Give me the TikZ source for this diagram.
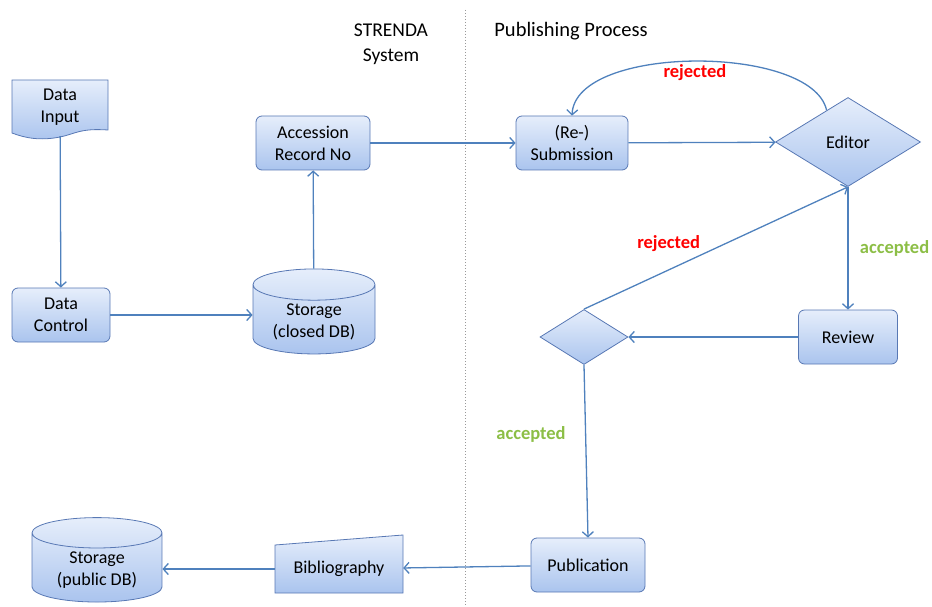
\documentclass[tikz,border=0pt]{standalone}
\usepackage{fontspec}
\setmainfont{Carlito}
\usetikzlibrary{shapes.geometric,arrows.meta,positioning}
\definecolor{linkblue}{RGB}{79,129,189}
\definecolor{edgeblue}{RGB}{88,120,180}
\definecolor{filltop}{RGB}{230,238,251}
\definecolor{fillbot}{RGB}{170,196,238}
\definecolor{okgreen}{RGB}{140,190,70}
\begin{document}
\begin{tikzpicture}[x=1pt,y=-1pt,
  font=\fontsize{18}{22}\selectfont,
  >={Straight Barb[length=5pt,width=11pt]},
  blockfill/.style={draw=edgeblue,line width=0.8pt,top color=filltop,bottom color=fillbot},
  box/.style={blockfill,rounded corners=6pt,align=center,minimum width=98pt,minimum height=54pt},
  db/.style={cylinder,shape border rotate=90,blockfill,align=center,aspect=0.35},
  link/.style={->,draw=linkblue,line width=1.3pt},
  decision/.style={diamond,blockfill,inner sep=0pt},
  tag/.style={font=\fontsize{18.5}{22}\selectfont\bfseries},
  heading/.style={font=\fontsize{19.5}{25}\selectfont,align=center}]
\useasboundingbox (0,0) rectangle (932,607);
% column titles
\draw[gray!80,dotted,line width=1pt] (465,10) -- (465,607);
\node[heading] (t1) at (391,44) {STRENDA\\System};
\node[heading,font=\fontsize{20.5}{25}\selectfont] (t2) at (571,31) {Publishing Process};
% data input (document shape)
\path[blockfill] (12,80) -- (108,80) -- (108,130) .. controls (80,128) and (75,134) .. (60,137) .. controls (40,141) and (25,138) .. (12,133) -- cycle;
\node[align=center,minimum width=96pt,minimum height=58pt] (a) at (60,107) {Data\\Input};
\node[box] (b) at (61,315) {Data\\Control};
\node[db,minimum width=122pt,minimum height=56pt] (c) at (314,322) {Storage\\(closed DB)};
\node[box,minimum width=114pt] (d) at (313,143) {Accession\\Record No};
\node[box,minimum width=112pt] (e) at (572,143) {(Re-)\\Submission};
\node[decision,minimum width=145pt,minimum height=89pt] (f) at (848,142) {Editor};
\node[box,minimum width=99pt] (g) at (848,337) {Review};
\node[decision,minimum width=88pt,minimum height=55pt] (h) at (584,337) {};
\node[box,minimum width=114pt] (i) at (588,565) {Publication};
% bibliography (manual input shape)
\path[blockfill] (275,593) -- (275,545) -- (403,535) -- (403,593) -- cycle;
\node[minimum width=128pt,minimum height=48pt] (j) at (339,569) {Bibliography};
\node[db,minimum width=130pt,minimum height=80pt] (k) at (97,570) {Storage\\(public DB)};
% connectors
\draw[link] (a) -- (b);
\draw[link] (b) -- (b -| c.west);
\draw[link] (c) -- (d);
\draw[link] (d) -- (e);
\draw[link] (e) -- (f);
\draw[link] (f.124) .. controls (812,44) and (575,44) .. (e.north) node[tag,red,pos=0.5,below=-1pt] {rejected};
\draw[link] (f) -- (g) node[tag,okgreen,midway,right=8pt] {accepted};
\draw[link] (g) -- (h);
\draw[link] (h.north) -- (f.south) node[tag,red,pos=0.45,above left,inner sep=2pt] {rejected};
\draw[link] (h.south) -- (i.north) node[tag,okgreen,pos=0.4,left=16pt] {accepted};
\draw[link] (i) -- (j);
\draw[link] (j) -- (j -| k.east);
\end{tikzpicture}
\end{document}
